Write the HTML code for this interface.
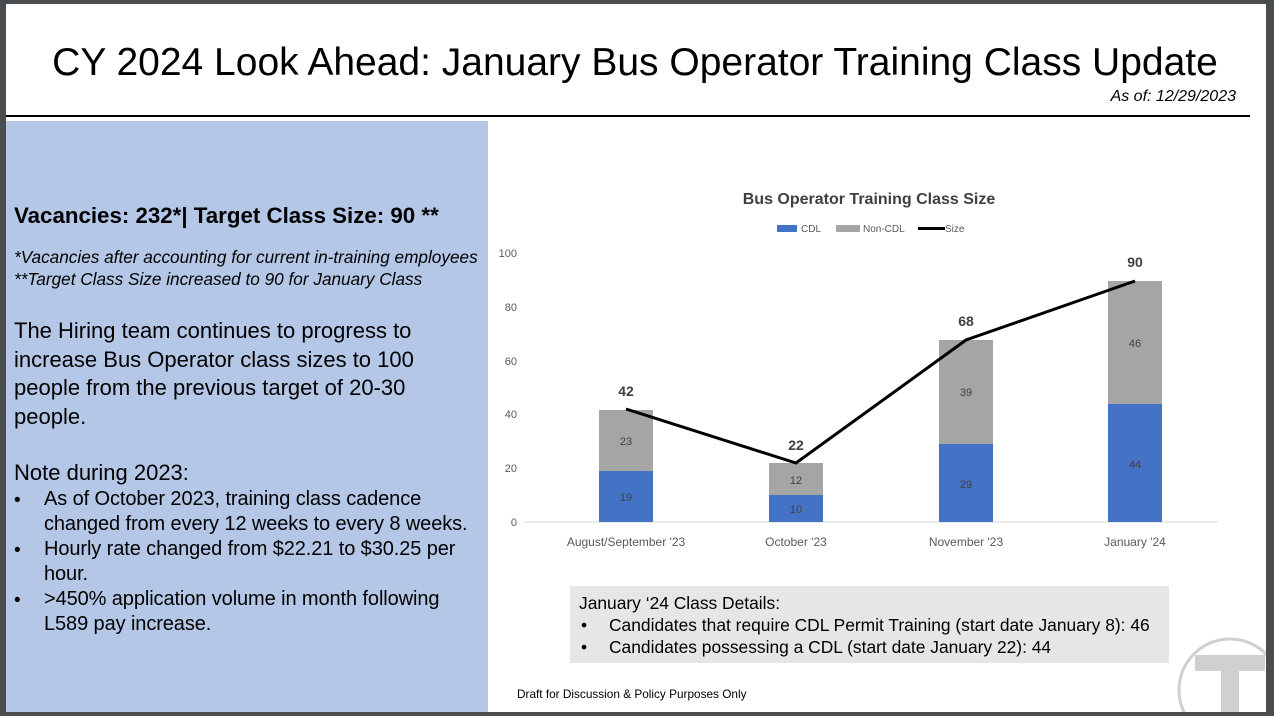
<!DOCTYPE html>
<html><head><meta charset="utf-8"><style>
body{margin:0;width:1274px;height:716px;background:#4a4d50;position:relative;overflow:hidden;font-family:"Liberation Sans",sans-serif}
#slide{position:absolute;left:6px;top:4px;width:1260px;height:708px;background:#fff}
.t{position:absolute;white-space:nowrap}
</style></head><body>
<div id="slide"></div>
<div class="t" style="left:0;width:1270px;text-align:center;top:41px;font-size:39px;color:#000">CY 2024 Look Ahead: January Bus Operator Training Class Update</div>
<div class="t" style="right:38px;top:88px;font-size:16px;font-style:italic">As of: 12/29/2023</div>
<div style="position:absolute;left:6px;top:115px;width:1244px;height:2px;background:#000"></div>
<div style="position:absolute;left:6px;top:121px;width:482px;height:591px;background:#b4c7e7"></div>
<div class="t" style="left:14px;top:203px;font-size:22.3px;font-weight:bold">Vacancies: 232*| Target Class Size: 90 **</div>
<div class="t" style="left:14px;top:246px;font-size:17.2px;font-style:italic;line-height:22px">*Vacancies after accounting for current in-training employees<br>**Target Class Size increased to 90 for January Class</div>
<div class="t" style="left:14px;top:317px;font-size:22px;line-height:28.5px">The Hiring team continues to progress to<br>increase Bus Operator class sizes to 100<br>people from the previous target of 20-30<br>people.</div>
<div class="t" style="left:14px;top:460px;font-size:22px">Note during 2023:</div>
<div class="t" style="left:14px;top:488px;font-size:19px;line-height:25px">•<br><br>•<br><br>•</div>
<div class="t" style="left:44px;top:487px;font-size:20px;line-height:25px;letter-spacing:-0.1px">As of October 2023, training class cadence<br>changed from every 12 weeks to every 8 weeks.<br>Hourly rate changed from $22.21 to $30.25 per<br>hour.<br>&gt;450% application volume in month following<br>L589 pay increase.</div>
<svg style="position:absolute;left:0;top:0" width="1274" height="716" font-family="Liberation Sans Narrow, Liberation Sans, sans-serif">
<text x="869" y="204" text-anchor="middle" font-size="16" font-weight="bold" fill="#404040">Bus Operator Training Class Size</text>
<rect x="777" y="225" width="20" height="7" fill="#4472c4"/><text x="801" y="232" font-size="10" fill="#595959">CDL</text>
<rect x="836" y="225" width="24" height="7" fill="#a5a5a5"/><text x="863" y="232" font-size="10" fill="#595959">Non-CDL</text>
<line x1="918" y1="228.5" x2="945" y2="228.5" stroke="#000" stroke-width="3"/><text x="945" y="232" font-size="10" fill="#595959">Size</text>
<g font-size="11" fill="#595959" text-anchor="end">
<text x="517" y="257">100</text><text x="517" y="311">80</text><text x="517" y="365">60</text><text x="517" y="418">40</text><text x="517" y="472">20</text><text x="517" y="526">0</text></g>
<line x1="524" y1="522" x2="1218" y2="522" stroke="#d9d9d9"/>
<g>
<rect x="599" y="471" width="54" height="51" fill="#4472c4"/><rect x="599" y="410" width="54" height="61" fill="#a5a5a5"/>
<rect x="769" y="495" width="54" height="27" fill="#4472c4"/><rect x="769" y="463" width="54" height="32" fill="#a5a5a5"/>
<rect x="939" y="444" width="54" height="78" fill="#4472c4"/><rect x="939" y="340" width="54" height="104" fill="#a5a5a5"/>
<rect x="1108" y="404" width="54" height="118" fill="#4472c4"/><rect x="1108" y="281" width="54" height="123" fill="#a5a5a5"/>
</g>
<g font-size="11" fill="#404040" text-anchor="middle">
<text x="626" y="501">19</text><text x="626" y="445">23</text>
<text x="796" y="513">10</text><text x="796" y="484">12</text>
<text x="966" y="488">29</text><text x="966" y="396">39</text>
<text x="1135" y="468">44</text><text x="1135" y="347">46</text></g>
<polyline points="626,409 796,463 966,340 1135,281" fill="none" stroke="#000" stroke-width="3"/>
<g font-size="14" font-weight="bold" fill="#404040" text-anchor="middle">
<text x="626" y="396">42</text><text x="796" y="450">22</text><text x="966" y="326">68</text><text x="1135" y="267">90</text></g>
<g font-size="12" fill="#595959" text-anchor="middle">
<text x="626" y="546">August/September '23</text><text x="796" y="546">October '23</text><text x="966" y="546">November '23</text><text x="1135" y="546">January '24</text></g>
<rect x="570" y="586" width="599" height="77" fill="#e7e6e6"/>
<g font-family="Liberation Sans, sans-serif" font-size="17.4" fill="#000">
<text x="579" y="609">January ‘24 Class Details:</text>
<text x="581" y="631">•</text><text x="609" y="631">Candidates that require CDL Permit Training (start date January 8): 46</text>
<text x="581" y="653">•</text><text x="609" y="653">Candidates possessing a CDL (start date January 22): 44</text>
</g>
<text x="517" y="698" font-family="Liberation Sans, sans-serif" font-size="11.8" fill="#000">Draft for Discussion &amp; Policy Purposes Only</text>
<circle cx="1230" cy="690" r="51" fill="none" stroke="#d0d0d0" stroke-width="3"/>
<rect x="1195" y="655" width="70" height="16" fill="#d0d0d0"/><rect x="1221" y="655" width="18" height="60" fill="#d0d0d0"/>
<rect x="1266" y="0" width="8" height="716" fill="#4a4d50"/><rect x="0" y="712" width="1274" height="4" fill="#4a4d50"/>
</svg>
</body></html>
